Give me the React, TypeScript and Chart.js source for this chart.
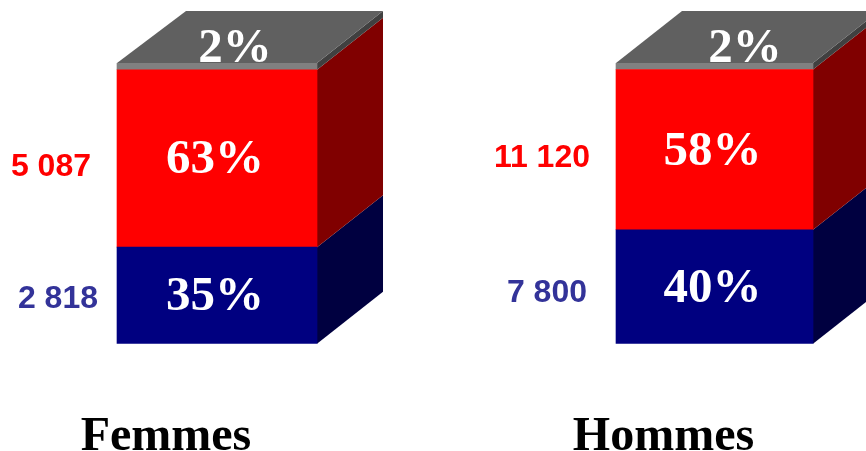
import React, { useEffect, useRef } from "react";
import { Chart, registerables } from "chart.js";

Chart.register(...registerables);

const categories = ["Femmes", "Hommes"];
const categoryPositions = [1, 2];
const blueShare = [34.4, 40.6];
const redShare = [63.2, 57.1];
const greyShare = [2.4, 2.3];
const bluePercentLabels = ["35%", "40%"];
const redPercentLabels = ["63%", "58%"];
const greyPercentLabels = ["2%", "2%"];
const blueCounts = ["2 818", "7 800"];
const redCounts = ["5 087", "11 120"];

const WIDTH = 866;
const HEIGHT = 451;
const DEPTH_X = 66;
const DEPTH_Y = 52;
const BAR_WIDTHS = [200, 197];
const SERIF = '"Liberation Serif", serif';
const SANS = '"Liberation Sans", sans-serif';

const SERIES = [
  { name: "blue", values: blueShare, front: "#000080", side: "#000040", pct: bluePercentLabels, counts: blueCounts, countColor: "#333399", countDx: [-19, -29], countDy: [1, 4] },
  { name: "red", values: redShare, front: "#ff0000", side: "#800000", pct: redPercentLabels, counts: redCounts, countColor: "#ff0000", countDx: [-26, -26], countDy: [6.5, 6] },
  { name: "grey", values: greyShare, front: "#808080", side: "#404040", pct: greyPercentLabels, counts: null, countColor: "", countDx: [0, 0], countDy: [0, 0] },
];
const TOP_COLOR = "#606060";

const cube3d = {
  id: "cube3d",
  beforeDatasetsDraw(chart: any) {
    const { ctx } = chart;
    ctx.save();
    chart.data.datasets.forEach((ds: any, di: number) => {
      chart.getDatasetMeta(di).data.forEach((bar: any) => {
        const right = bar.x + bar.width / 2;
        const left = bar.x - bar.width / 2;
        ctx.fillStyle = ds.sideColor;
        ctx.beginPath();
        ctx.moveTo(right, bar.base);
        ctx.lineTo(right + DEPTH_X, bar.base - DEPTH_Y);
        ctx.lineTo(right + DEPTH_X, bar.y - DEPTH_Y);
        ctx.lineTo(right, bar.y);
        ctx.closePath();
        ctx.fill();
        if (ds.isTop) {
          const backLeft = left + DEPTH_X + ds.backInset;
          ctx.fillStyle = TOP_COLOR;
          ctx.beginPath();
          ctx.moveTo(left, bar.y);
          ctx.lineTo(backLeft, bar.y - DEPTH_Y);
          ctx.lineTo(right + DEPTH_X, bar.y - DEPTH_Y);
          ctx.lineTo(right, bar.y);
          ctx.closePath();
          ctx.fill();
        }
      });
    });
    ctx.restore();
  },
  afterDraw(chart: any) {
    const { ctx } = chart;
    ctx.save();
    ctx.textBaseline = "alphabetic";
    chart.data.datasets.forEach((ds: any, di: number) => {
      const s = ds.series;
      const i = ds.categoryIndex;
      chart.getDatasetMeta(di).data.forEach((bar: any) => {
        const mid = (bar.y + bar.base) / 2;
        ctx.fillStyle = "#ffffff";
        ctx.font = `bold 49px ${SERIF}`;
        ctx.textAlign = "center";
        if (s.counts) {
          ctx.fillText(s.pct[i], bar.x - 2, mid + 15);
          ctx.fillStyle = s.countColor;
          ctx.font = `bold 32px ${SANS}`;
          ctx.textAlign = "right";
          ctx.fillText(s.counts[i], bar.x - bar.width / 2 + s.countDx[i], mid + s.countDy[i] + 11.5);
        } else {
          ctx.fillText(s.pct[i], bar.x + (i === 0 ? 18 : 30.5), bar.y - 1);
        }
      });
    });
    ctx.restore();
  },
};

export default function App() {
  const ref = useRef<HTMLCanvasElement>(null);
  useEffect(() => {
    document.body.style.margin = "0";
    const datasets = categories.flatMap((category, i) =>
      SERIES.map((s, si) => ({
        label: `${category} ${s.name}`,
        data: [{ x: categoryPositions[i], y: s.values[i] }],
        backgroundColor: s.front,
        sideColor: s.side,
        isTop: si === SERIES.length - 1,
        backInset: BAR_WIDTHS[i] - Math.min(...BAR_WIDTHS),
        series: s,
        categoryIndex: i,
        borderWidth: 0,
        barThickness: BAR_WIDTHS[i],
      }))
    );
    const chart = new Chart(ref.current as HTMLCanvasElement, {
      type: "bar",
      data: { datasets: datasets as any },
      options: {
        responsive: false,
        animation: false,
        devicePixelRatio: 1,
        layout: { padding: { top: 63, left: 0, right: 0, bottom: 0 } },
        plugins: { legend: { display: false }, tooltip: { enabled: false } },
        scales: {
          x: {
            type: "linear",
            stacked: true,
            offset: false,
            min: 0.5638,
            max: 2.3045,
            grid: { display: false },
            border: { display: false },
            afterBuildTicks: (scale: any) => {
              scale.ticks = categoryPositions.map((value) => ({ value }));
            },
            afterFit: (scale: any) => {
              scale.height = 107.3;
            },
            ticks: {
              autoSkip: false,
              maxRotation: 0,
              color: "#000000",
              padding: 57,
              labelOffset: -51,
              font: { family: SERIF, weight: "bold", size: 48 },
              callback: (v: any) => categories[categoryPositions.indexOf(Number(v))] ?? "",
            },
          },
          y: { display: false, stacked: true, min: 0, max: 100 },
        },
      } as any,
      plugins: [cube3d],
    });
    return () => chart.destroy();
  }, []);
  return (
    <canvas ref={ref} width={WIDTH} height={HEIGHT} style={{ display: "block" }} />
  );
}
